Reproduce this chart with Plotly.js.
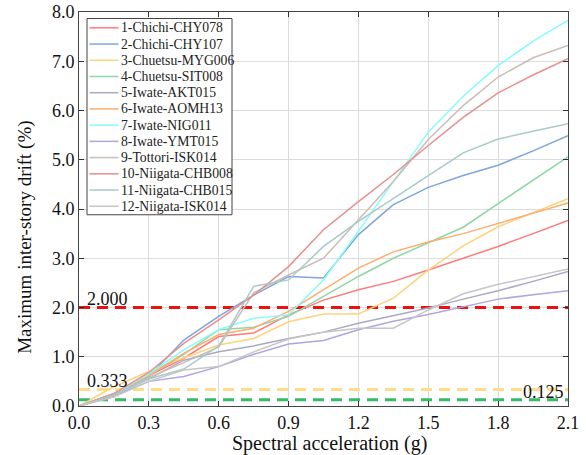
<!DOCTYPE html>
<html>
<head>
<meta charset="utf-8">
<script src="https://cdn.plot.ly/plotly-3.0.1.min.js"></script>
<style>
html,body{margin:0;padding:0;background:#fff;}
#chart{width:586px;height:455px;}
#chart text{font-family:"Liberation Serif",serif !important;}
</style>
</head>
<body>
<div id="chart"></div>
<script>
var sa = [0, 0.15, 0.3, 0.45, 0.6, 0.75, 0.9, 1.05, 1.2, 1.35, 1.5, 1.65, 1.8, 1.95, 2.1];
var names = ['1-Chichi-CHY078','2-Chichi-CHY107','3-Chuetsu-MYG006','4-Chuetsu-SIT008','5-Iwate-AKT015','6-Iwate-AOMH13','7-Iwate-NIG011','8-Iwate-YMT015','9-Tottori-ISK014','10-Niigata-CHB008','11-Niigata-CHB015','12-Niigata-ISK014'];
var s1  = [0, 0.25, 0.62, 0.97, 1.41, 1.48, 1.85, 2.15, 2.36, 2.53, 2.76, 3.00, 3.24, 3.50, 3.77];
var s2  = [0, 0.22, 0.60, 1.34, 1.82, 2.25, 2.63, 2.60, 3.48, 4.09, 4.44, 4.68, 4.89, 5.18, 5.49];
var s3  = [0, 0.39, 0.70, 0.98, 1.24, 1.37, 1.71, 1.87, 1.87, 2.19, 2.76, 3.25, 3.64, 3.93, 4.21];
var s4  = [0, 0.25, 0.62, 1.05, 1.55, 1.60, 1.82, 2.22, 2.63, 3.00, 3.31, 3.63, 4.11, 4.59, 5.06];
var s5  = [0, 0.22, 0.55, 0.93, 1.10, 1.22, 1.37, 1.50, 1.68, 1.84, 1.99, 2.17, 2.34, 2.53, 2.73];
var s6  = [0, 0.25, 0.62, 1.07, 1.45, 1.58, 1.92, 2.36, 2.80, 3.13, 3.33, 3.50, 3.71, 3.92, 4.12];
var s7  = [0, 0.25, 0.65, 1.14, 1.55, 1.78, 1.85, 2.56, 3.55, 4.55, 5.56, 6.29, 6.91, 7.41, 7.83];
var s8  = [0, 0.20, 0.50, 0.60, 0.80, 1.05, 1.26, 1.33, 1.55, 1.72, 1.86, 2.02, 2.17, 2.26, 2.34];
var s9  = [0, 0.22, 0.58, 0.88, 1.20, 2.30, 2.66, 3.00, 3.78, 4.56, 5.41, 6.10, 6.68, 7.07, 7.32];
var s10 = [0, 0.25, 0.68, 1.27, 1.75, 2.25, 2.83, 3.58, 4.15, 4.70, 5.29, 5.86, 6.36, 6.72, 7.05];
var s11 = [0, 0.22, 0.55, 0.75, 1.22, 2.43, 2.56, 3.24, 3.75, 4.22, 4.68, 5.14, 5.42, 5.58, 5.73];
var s12 = [0, 0.18, 0.50, 0.73, 0.80, 1.10, 1.36, 1.50, 1.58, 1.58, 1.95, 2.28, 2.47, 2.63, 2.78];
var series = [s1,s2,s3,s4,s5,s6,s7,s8,s9,s10,s11,s12];
var colors = ['#ff7a7a','#7ea6dc','#ffd27a','#8ed6a6','#a9a9c6','#ffac6c','#86fcfc','#aea6e2','#c9bdb6','#e88e8e','#a8cbc9','#c6c6c6'];

var limits = [2.0, 0.333, 0.125];
var limitLabels = ['2.000', '0.333', '0.125'];
var limitColors = ['#ee1111', '#ffdc88', '#35bb68'];
var xTitle = 'Spectral acceleration (g)';
var yTitle = 'Maximum inter-story drift (%)';

var traces = [];
limits.forEach(function(v, i) {
  traces.push({x: [0, 2.1], y: [v, v], mode: 'lines', showlegend: false, hoverinfo: 'skip',
    line: {color: limitColors[i], width: 3, dash: '11px,7px'}});
});
series.forEach(function(s, i) {
  traces.push({x: sa, y: s, mode: 'lines', name: names[i], showlegend: false, line: {color: colors[i], width: 1.5}});
});

var serif = 'Liberation Serif';
var W = 489, H = 393.5, L = 79, B = 406;
function px(x) { return (x - L) / W; }
function py(y) { return (B - y) / H; }

var annotations = [
  {x: 0.012, xref: 'paper', y: limits[0], yref: 'y', text: limitLabels[0], showarrow: false, xanchor: 'left', yanchor: 'bottom', font: {family: serif, size: 18, color: '#111'}, yshift: -3},
  {x: 0.012, xref: 'paper', y: limits[1], yref: 'y', text: limitLabels[1], showarrow: false, xanchor: 'left', yanchor: 'bottom', font: {family: serif, size: 18, color: '#111'}, yshift: -3},
  {x: 0.995, xref: 'paper', y: limits[2], yref: 'y', text: limitLabels[2], showarrow: false, xanchor: 'right', yanchor: 'bottom', font: {family: serif, size: 18, color: '#111'}, yshift: -4},
  {x: px(329), xref: 'paper', y: py(443), yref: 'paper', text: xTitle, showarrow: false, xanchor: 'center', yanchor: 'middle', font: {family: serif, size: 20, color: '#111'}},
  {x: px(25), xref: 'paper', y: py(238), yref: 'paper', text: yTitle, showarrow: false, textangle: -90, xanchor: 'center', yanchor: 'middle', font: {family: serif, size: 19, color: '#111'}}
];

// manual legend (box, line samples, labels) in paper coordinates
var shapes = [{type: 'rect', xref: 'paper', yref: 'paper', x0: px(87), x1: px(232), y0: py(215), y1: py(19),
  fillcolor: '#ffffff', line: {color: '#444', width: 1}, layer: 'above'}];
names.forEach(function(n, i) {
  var yy = 28.3 + 16.2 * i;
  shapes.push({type: 'line', xref: 'paper', yref: 'paper', x0: px(89.5), x1: px(118.5), y0: py(yy), y1: py(yy),
    line: {color: colors[i], width: 1.5}, layer: 'above'});
  annotations.push({x: px(120), xref: 'paper', y: py(yy), yref: 'paper', text: n, showarrow: false,
    xanchor: 'left', yanchor: 'middle', font: {family: serif, size: 13.7, color: '#222'}, borderpad: 0});
});

var layout = {
  width: 586, height: 455,
  margin: {l: 79, r: 18, t: 12, b: 49},
  paper_bgcolor: '#fff', plot_bgcolor: '#fff',
  font: {family: serif, size: 18, color: '#111'},
  showlegend: false,
  xaxis: {range: [0, 2.1], dtick: 0.3, tick0: 0, tickformat: '.1f', ticks: 'inside', ticklen: 5, tickcolor: '#333',
    showline: true, linecolor: '#444', linewidth: 1, mirror: 'ticks', showgrid: true, gridcolor: '#dcdcdc', zeroline: false,
    tickfont: {family: serif, size: 18}},
  yaxis: {range: [0, 8], dtick: 1, tick0: 0, tickformat: '.1f', ticks: 'inside', ticklen: 5, tickcolor: '#333',
    showline: true, linecolor: '#444', linewidth: 1, mirror: 'ticks', showgrid: true, gridcolor: '#dcdcdc', zeroline: false,
    tickfont: {family: serif, size: 18}},
  shapes: shapes,
  annotations: annotations
};
Plotly.newPlot('chart', traces, layout, {displayModeBar: false, staticPlot: true});
</script>
</body>
</html>
